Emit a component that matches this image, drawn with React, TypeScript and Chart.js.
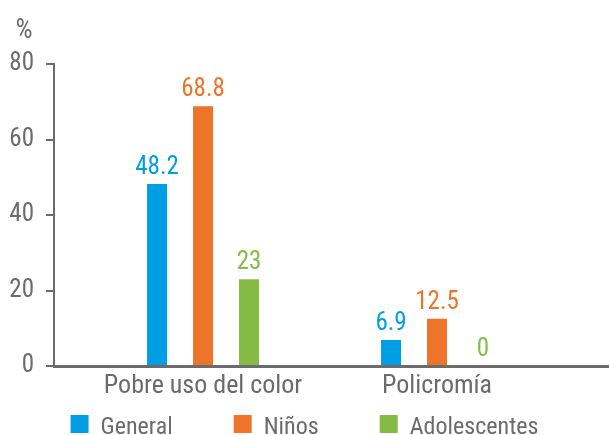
import React, { useEffect, useRef } from "react";
import { Chart, registerables } from "chart.js";

Chart.register(...registerables);

const categories = ["Pobre uso del color", "Policromía"];
const seriesNames = ["General", "Niños", "Adolescentes"];
const general = [48.2, 6.9];
const ninos = [68.8, 12.5];
const adolescentes = [23, 0];
const seriesColors = ["#009fe3", "#ed7429", "#84bb45"];
const yTicks = [0, 20, 40, 60, 80];
const yUnit = "%";

const seriesValues = [general, ninos, adolescentes];

const FONT_FAMILY =
  '"Roboto Condensed", "Liberation Sans Narrow", "DejaVu Sans Condensed", Roboto, sans-serif';
const FONT_SIZE = 25;
const GRAY = "#6b6b6b";

const unitPlugin = {
  id: "unitLabel",
  afterDraw(chart: any) {
    const ctx = chart.ctx;
    ctx.save();
    ctx.font = `27px ${FONT_FAMILY}`;
    ctx.fillStyle = GRAY;
    ctx.textAlign = "center";
    ctx.textBaseline = "alphabetic";
    ctx.fillText(yUnit, 24, 38);
    ctx.restore();
  },
};

const valueLabelPlugin = {
  id: "valueLabels",
  afterDatasetsDraw(chart: any) {
    const ctx = chart.ctx;
    ctx.save();
    ctx.font = `${FONT_SIZE}px ${FONT_FAMILY}`;
    ctx.textAlign = "center";
    ctx.textBaseline = "alphabetic";
    chart.data.datasets.forEach((ds: any, d: number) => {
      const meta = chart.getDatasetMeta(d);
      ctx.fillStyle = seriesColors[d];
      meta.data.forEach((el: any, i: number) => {
        ctx.fillText(String(seriesValues[d][i]), el.x, el.y - 10);
      });
    });
    ctx.restore();
  },
};

const legendPlugin = {
  id: "customLegend",
  afterDraw(chart: any) {
    const ctx = chart.ctx;
    ctx.save();
    ctx.font = `24px ${FONT_FAMILY}`;
    ctx.textBaseline = "alphabetic";
    ctx.textAlign = "left";
    const box = 18;
    const gapText = 12;
    const gapItem = 61;
    const widths = seriesNames.map((n) => box + gapText + ctx.measureText(n).width);
    const total = widths.reduce((a, b) => a + b, 0) + gapItem * (seriesNames.length - 1);
    let x = (chart.width - total) / 2;
    const boxTop = 415;
    seriesNames.forEach((n, i) => {
      ctx.fillStyle = seriesColors[i];
      ctx.fillRect(x, boxTop, box, box);
      ctx.fillStyle = GRAY;
      ctx.fillText(n, x + box + gapText, 434);
      x += widths[i] + gapItem;
    });
    ctx.restore();
  },
};

export default function App() {
  const ref = useRef<HTMLCanvasElement | null>(null);

  useEffect(() => {
    if (!ref.current) return;
    const chart = new Chart(ref.current, {
      type: "bar",
      data: {
        datasets: seriesNames.map((name, d) => ({
          label: name,
          data: categories.map((_, i) => ({ x: i, y: seriesValues[d][i] })),
          backgroundColor: seriesColors[d],
          borderWidth: 0,
          categoryPercentage: 138 / 234,
          barPercentage: 20 / 46,
        })),
      },
      options: {
        animation: false,
        responsive: true,
        maintainAspectRatio: false,
        layout: { padding: { top: 64, left: 0, right: 0, bottom: 0 } },
        plugins: {
          legend: { display: false },
          tooltip: { enabled: false },
          title: { display: false },
        },
        scales: {
          x: {
            type: "linear",
            bounds: "data",
            offset: false,
            min: -0.637,
            max: 1.735,
            afterBuildTicks: (s: any) => {
              s.ticks = categories.map((_, i) => ({ value: i }));
            },
            afterFit: (s: any) => {
              s.height = 69;
            },
            ticks: {
              callback: (v: any) => categories[v] ?? "",
              font: { family: FONT_FAMILY, size: 26 },
              color: GRAY,
              padding: 5,
              autoSkip: false,
              maxRotation: 0,
            },
            grid: { display: false, drawTicks: false, offset: false },
            border: { display: true, color: GRAY, width: 3 },
          },
          y: {
            min: yTicks[0],
            max: yTicks[yTicks.length - 1],
            afterBuildTicks: (s: any) => {
              s.ticks = yTicks.map((v) => ({ value: v }));
            },
            afterFit: (s: any) => {
              s.width = 54;
            },
            ticks: {
              font: { family: FONT_FAMILY, size: FONT_SIZE },
              color: GRAY,
              padding: 12,
            },
            grid: {
              display: true,
              drawOnChartArea: false,
              drawTicks: true,
              tickLength: 8,
              color: GRAY,
              lineWidth: 2,
            },
            border: { display: true, color: GRAY, width: 2 },
          },
        },
      },
      plugins: [unitPlugin, valueLabelPlugin, legendPlugin],
    } as any);
    return () => chart.destroy();
  }, []);

  return (
    <div style={{ position: "absolute", left: 0, top: 0, width: 609, height: 435 }}>
      <canvas ref={ref} />
    </div>
  );
}
